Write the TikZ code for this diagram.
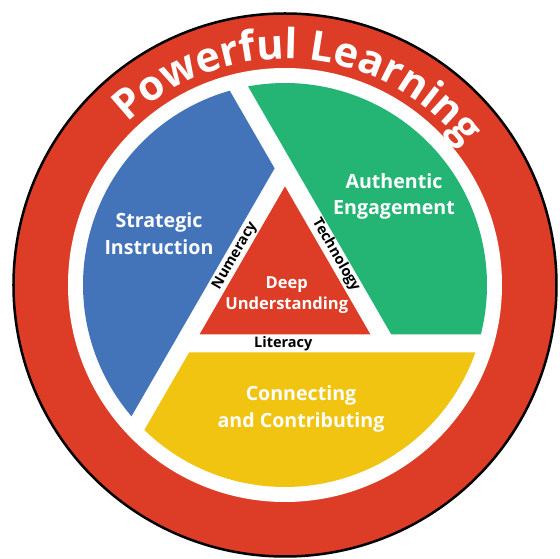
\documentclass[tikz,border=0pt]{standalone}
\usepackage{fontspec}
\setsansfont{Open Sans}
\usetikzlibrary{decorations.text}
\definecolor{ringred}{RGB}{221,61,38}
\definecolor{stratblue}{RGB}{67,115,184}
\definecolor{authgreen}{RGB}{36,181,117}
\definecolor{connyellow}{RGB}{240,196,16}
\newcommand{\titlefont}{\sffamily\bfseries\fontsize{41.5}{41.5}\selectfont}

\begin{document}
\begin{tikzpicture}[x=1pt,y=1pt,
  part/.style={text=white,align=center,font=\sffamily\bfseries\fontsize{19.6}{26.5}\selectfont},
  core/.style={text=white,align=center,font=\sffamily\bfseries\fontsize{16.5}{21}\selectfont},
  thread/.style={text=black,inner sep=0pt,font=\sffamily\bfseries\fontsize{14.5}{14.5}\selectfont}]
\useasboundingbox (-285,-274) rectangle (275,285);
% outer ring
\fill[ringred,draw=black,line width=2.5pt] (0,0) circle[radius=271.5pt];
\fill[white] (0,0) circle[radius=217pt];
% the three parts, each turned 120 degrees from the last
\foreach \col/\ang in {authgreen/0,stratblue/120,connyellow/240}
  \fill[\col,rotate=\ang] (106.2,-49.3) -- (-14.13:202)
    arc[start angle=-14.13,end angle=100.54,radius=202pt] -- cycle;
\fill[ringred] (90:98.6) -- (210:98.6) -- (330:98.6) -- cycle;
% title along the ring
\path[decorate,decoration={text along path,text align=center,text color=white,
  text={|\titlefont|Powerful Learning}}]
  (162:226) arc[start angle=162,end angle=10,radius=226pt];
\path
(-126,51.5)  node[part] (strat) {Strategic\\Instruction}
(109,88.5)   node[part] (auth)  {Authentic\\Engagement}
(16,-124)    node[part] (conn)  {Connecting\\and Contributing}
(1.7,-9.7)   node[core] (deep)  {Deep\\Understanding}
(-50,29)     node[thread,rotate=60]  (num)  {Numeracy}
(51,30)      node[thread,rotate=-60] (tech) {Technology}
(-1.7,-58.5) node[thread] (lit) {Literacy};
\end{tikzpicture}
\end{document}
